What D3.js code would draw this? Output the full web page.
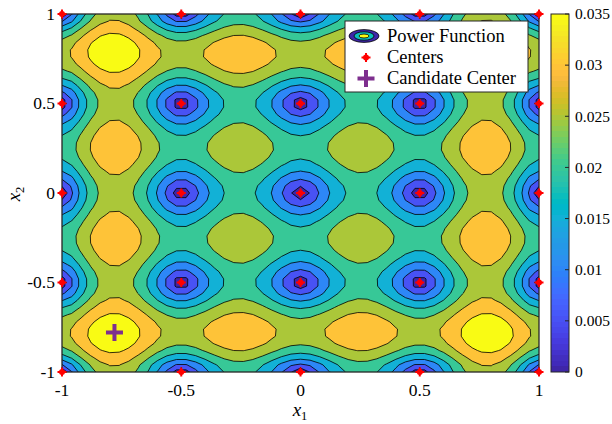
<!DOCTYPE html>
<html><head><meta charset="utf-8">
<script src="https://cdn.jsdelivr.net/npm/d3@7"></script>
<style>
body{margin:0;background:#fff}
text{font-family:"Liberation Serif","DejaVu Serif",serif;fill:#000}
</style></head><body>
<div id="graphicContainer"></div>
<script>
var centerX = [-1, -0.5, 0, 0.5, 1],
	centerY = [-1, -0.5, 0, 0.5, 1],
	candidate = [-0.78, -0.78],
	levels = [0, 0.005, 0.01, 0.015, 0.02, 0.025, 0.03, 0.035],
	axisTicks = [-1, -0.5, 0, 0.5, 1],
	cbarTicks = [0, 0.005, 0.01, 0.015, 0.02, 0.025, 0.03, 0.035],
	legendLabels = ["Power Function", "Centers", "Candidate Center"];

// parula, 64 entries
var parula = ["#3e26a8","#402aba","#422ebf","#4432cb","#4537d5","#463bde","#4741e5","#4747eb","#484cf0","#4852f4","#4758f8","#465efb","#4563fd","#4269fe","#3e6fff","#3875fe","#327bfc","#2e81f9","#2d87f7","#2d8cf3","#2b91ef","#2796eb","#2598e7","#239ce5","#20a1e2","#1ca5df","#18aadb","#12b1d6","#08b4d0","#01b7ca","#02bac3","#0bbdbc","#18bfb5","#24c1ae","#2cc3a7","#31c59f","#37c897","#3fca8e","#4acb84","#57cc7a","#64cd6f","#71cd64","#80cc59","#8fcb4e","#9dc942","#abc739","#b9c430","#c5c22a","#d1bf27","#dcbd29","#e6bb2d","#efba36","#f8ba3d","#febe3c","#fec338","#fec934","#fccf30","#f9d62d","#f7dc2a","#f5e227","#f5e924","#f5ef20","#f7f51b","#f9fb14"];

// Matern 5/2 kernel
var kernelEps = 1, kernelSigma = 1.953;
function kernel(r){ var t = kernelEps*r; return kernelSigma*kernelSigma*(1 + t + t*t/3)*Math.exp(-t) }

// P(x)^2 = K(x,x) - k(x)^T K^-1 k(x), through a Cholesky factor
function powerFunction(px, py, evalPts){
	var pts = [];
	py.forEach(function(y){ px.forEach(function(x){ pts.push([x, y]) }) });
	var n = pts.length, L = [];
	for (var i = 0; i < n; i++){
		L.push(new Array(n).fill(0));
		for (var j = 0; j <= i; j++){
			var s = kernel(Math.hypot(pts[i][0]-pts[j][0], pts[i][1]-pts[j][1]));
			for (var k = 0; k < j; k++) s -= L[i][k]*L[j][k];
			if (i == j) L[i][i] = Math.sqrt(s);
			else L[i][j] = s / L[j][j];
		}
	}
	var k0 = kernel(0);
	return evalPts.map(function(p){
		var w = [], ww = 0;
		for (var i = 0; i < n; i++){
			var s = kernel(Math.hypot(p[0]-pts[i][0], p[1]-pts[i][1]));
			for (var k = 0; k < i; k++) s -= L[i][k]*w[k];
			w.push(s / L[i][i]); ww += w[i]*w[i];
		}
		return Math.sqrt(Math.max(k0 - ww, 0));
	});
}

var nGrid = 51, step = 2/(nGrid-1),
	gridPts = [];
for (var j = 0; j < nGrid; j++) for (var i = 0; i < nGrid; i++) gridPts.push([-1 + i*step, -1 + j*step]);
var values = powerFunction(centerX, centerY, gridPts);

var width = 612, height = 424,
	plot = {left: 62, right: 539, top: 14, bottom: 372},
	cbar = {left: 551, width: 18};

var x = d3.scaleLinear().domain([-1, 1]).range([plot.left, plot.right]),
	y = d3.scaleLinear().domain([-1, 1]).range([plot.bottom, plot.top]),
	cMax = levels[levels.length-1],
	cy = d3.scaleLinear().domain([0, cMax]).range([plot.bottom, plot.top]);

function levelColor(v){ return parula[Math.min(63, Math.floor(v / cMax * 64 + 1e-9))] }

var svg = d3.select("#graphicContainer").append("svg")
	.attr("width", width).attr("height", height);
svg.append("rect").attr("width", width).attr("height", height).attr("fill", "#fff");

svg.append("clipPath").attr("id", "plotClip")
	.append("rect").attr("x", plot.left).attr("y", plot.top)
	.attr("width", plot.right - plot.left).attr("height", plot.bottom - plot.top);

var g = svg.append("g").attr("clip-path", "url(#plotClip)");

var contours = d3.contours().size([nGrid, nGrid]).thresholds(levels.slice(1))(values);
var path = d3.geoPath(d3.geoTransform({
	point: function(px, py){ this.stream.point(x(-1 + (px - 0.5)*step), y(-1 + (py - 0.5)*step)) }
}));

g.append("rect").attr("x", plot.left).attr("y", plot.top)
	.attr("width", plot.right - plot.left).attr("height", plot.bottom - plot.top)
	.attr("fill", levelColor(levels[0]));

g.selectAll(".band").data(contours).enter().append("path")
	.attr("class", "band")
	.attr("d", path)
	.attr("fill", function(d){ return levelColor(d.value) })
	.attr("stroke", "#000").attr("stroke-width", 0.8).attr("stroke-linejoin", "round");

// ticks
var tickLen = 5, axisColor = "#262626";
axisTicks.forEach(function(t){
	svg.append("line").attr("x1", x(t)).attr("x2", x(t)).attr("y1", plot.bottom).attr("y2", plot.bottom - tickLen).attr("stroke", axisColor);
	svg.append("line").attr("x1", x(t)).attr("x2", x(t)).attr("y1", plot.top).attr("y2", plot.top + tickLen).attr("stroke", axisColor);
	svg.append("line").attr("y1", y(t)).attr("y2", y(t)).attr("x1", plot.left).attr("x2", plot.left + tickLen).attr("stroke", axisColor);
	svg.append("line").attr("y1", y(t)).attr("y2", y(t)).attr("x1", plot.right).attr("x2", plot.right - tickLen).attr("stroke", axisColor);
});
svg.append("rect").attr("x", plot.left).attr("y", plot.top)
	.attr("width", plot.right - plot.left).attr("height", plot.bottom - plot.top)
	.attr("fill", "none").attr("stroke", axisColor).attr("stroke-width", 1.3);

svg.selectAll(".xLab").data(axisTicks).enter().append("text")
	.attr("x", function(d){ return x(d) }).attr("y", 396)
	.attr("text-anchor", "middle").attr("font-size", "17.5px")
	.text(function(d){ return String(d) });
svg.selectAll(".yLab").data(axisTicks).enter().append("text")
	.attr("x", 55).attr("y", function(d){ return y(d) }).attr("dy", "0.34em")
	.attr("text-anchor", "end").attr("font-size", "17.5px")
	.text(function(d){ return String(d) });

var xl = svg.append("text").attr("x", 300).attr("y", 416).attr("text-anchor", "middle");
xl.append("tspan").attr("font-style", "italic").attr("font-size", "19px").text("x");
xl.append("tspan").attr("font-size", "12.5px").attr("dy", 3.5).text("1");
var yl = svg.append("text").attr("transform", "translate(20,194) rotate(-90)").attr("text-anchor", "middle");
yl.append("tspan").attr("font-style", "italic").attr("font-size", "19px").text("x");
yl.append("tspan").attr("font-size", "12.5px").attr("dy", 3.5).text("2");

// markers
function centerMarker(sel, cx, cyy){
	sel.append("circle").attr("cx", cx).attr("cy", cyy).attr("r", 3).attr("fill", "#ff0000");
	sel.append("path").attr("d", "M"+(cx-4.5)+","+cyy+"H"+(cx+4.5)+"M"+cx+","+(cyy-4.5)+"V"+(cyy+4.5))
		.attr("stroke", "#ff0000").attr("stroke-width", 2);
}
function plusMarker(sel, cx, cyy){
	sel.append("path").attr("d", "M"+(cx-8.5)+","+cyy+"H"+(cx+8.5)+"M"+cx+","+(cyy-8.5)+"V"+(cyy+8.5))
		.attr("stroke", "#7e2f8e").attr("stroke-width", 4);
}
var mk = svg.append("g");
centerY.forEach(function(cyv){ centerX.forEach(function(cxv){ centerMarker(mk, x(cxv), y(cyv)) }) });
plusMarker(mk, x(candidate[0]), y(candidate[1]));

// legend
var lg = svg.append("g");
lg.append("rect").attr("x", 345).attr("y", 21).attr("width", 183).attr("height", 71)
	.attr("fill", "#fff").attr("stroke", axisColor).attr("stroke-width", 1);
[[15, 6.4, parula[0]], [10, 4.2, parula[31]], [5, 2, parula[63]]].forEach(function(e){
	lg.append("ellipse").attr("cx", 364).attr("cy", 36).attr("rx", e[0]).attr("ry", e[1])
		.attr("fill", e[2]).attr("stroke", "#000").attr("stroke-width", 0.8);
});
centerMarker(lg, 366, 57.5);
plusMarker(lg, 366, 78.5);
lg.selectAll(".lgText").data(legendLabels).enter().append("text")
	.attr("x", 387).attr("y", function(d, i){ return 41.5 + i*21 })
	.attr("font-size", "18.5px").text(function(d){ return d });

// colorbar
var grad = svg.append("defs").append("linearGradient").attr("id", "cbGrad")
	.attr("x1", 0).attr("y1", 1).attr("x2", 0).attr("y2", 0);
parula.forEach(function(c, i){
	grad.append("stop").attr("offset", i/64).attr("stop-color", c);
	grad.append("stop").attr("offset", (i+1)/64).attr("stop-color", c);
});
svg.append("rect").attr("x", cbar.left).attr("y", plot.top).attr("width", cbar.width)
	.attr("height", plot.bottom - plot.top).attr("fill", "url(#cbGrad)")
	.attr("stroke", axisColor).attr("stroke-width", 1);
cbarTicks.forEach(function(t){
	svg.append("line").attr("x1", cbar.left + cbar.width - 4).attr("x2", cbar.left + cbar.width)
		.attr("y1", cy(t)).attr("y2", cy(t)).attr("stroke", axisColor);
});
svg.selectAll(".cbLab").data(cbarTicks).enter().append("text")
	.attr("x", 575).attr("y", function(d){ return cy(d) }).attr("dy", "0.34em")
	.attr("font-size", "15.5px").text(function(d){ return String(d) });
</script>
</body></html>
